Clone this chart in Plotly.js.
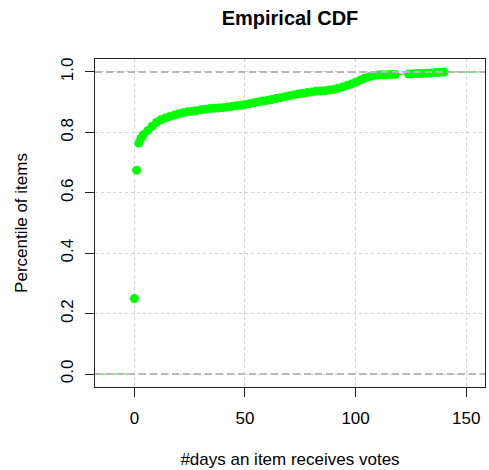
<!DOCTYPE html>
<html><head><meta charset="utf-8">
<script src="https://cdn.plot.ly/plotly-3.0.1.min.js"></script>
<style>html,body{margin:0;padding:0;background:#fff}</style>
</head><body><div id="chart" style="width:489px;height:470px"></div>
<script>
// Knots of the empirical CDF (days) and the CDF value at each knot
const days = [0,1,2,3,4,6,8,10,12,14,16,18,20,22,24,26,28,30,32,34,36,38,40,42,44,46,48,50,
  52,54,56,58,60,62,64,66,68,70,72,74,76,78,80,82,84,86,88,90,92,94,96,98,100,102,104,106,108,
  110,112,114,116,118,124,126,128,130,132,134,136,138,140];
const cdf = [0.250,0.675,0.765,0.780,0.792,0.806,0.820,0.833,0.842,0.848,0.853,0.857,0.862,0.865,
  0.868,0.870,0.872,0.875,0.877,0.879,0.880,0.881,0.882,0.884,0.886,0.888,0.890,0.892,
  0.895,0.898,0.901,0.904,0.906,0.909,0.912,0.915,0.918,0.921,0.924,0.927,0.930,0.932,0.934,
  0.936,0.937,0.938,0.940,0.942,0.946,0.950,0.955,0.960,0.966,0.973,0.979,0.984,0.988,
  0.990,0.991,0.991,0.992,0.992,0.993,0.994,0.995,0.995,0.996,0.997,0.998,0.999,1.000];
const xTicks = [0,50,100,150];
const yTicks = [0,0.2,0.4,0.6,0.8,1.0];
const refLevels = [0, 1];
const xRange = [-17.8,158.5];
const yRange = [-0.043,1.043];

// horizontal step segments (no verticals), as in R's plot.ecdf
const segX = [xRange[0], days[0], null];
const segY = [0, 0, null];
for (let i = 0; i < days.length; i++) {
  const xe = i < days.length - 1 ? days[i+1] : xRange[1];
  segX.push(days[i], xe, null);
  segY.push(cdf[i], cdf[i], null);
}
// dashed reference lines at 0 and 1 across the whole x range
const refX = [], refY = [];
refLevels.forEach(v => { refX.push(xRange[0], xRange[1], null); refY.push(v, v, null); });

const green = '#00ff00';
const font = 'Liberation Sans, Arial, Helvetica, sans-serif';
const traces = [
  {x: segX, y: segY, mode: 'lines', line: {color: green, width: 0.8}, connectgaps: false,
   hoverinfo: 'skip', showlegend: false},
  {x: days, y: cdf, mode: 'markers', marker: {color: green, size: 9}, showlegend: false},
  {x: refX, y: refY, mode: 'lines', line: {color: '#b8b8b8', width: 2, dash: '7px,4px'},
   connectgaps: false, hoverinfo: 'skip', showlegend: false}
];

const axisCommon = {
  showline: true, mirror: true, linecolor: '#222', linewidth: 1,
  ticks: 'outside', ticklen: 9, tickcolor: '#222', tickwidth: 1,
  showgrid: true, gridcolor: '#d3d3d3', griddash: 'dot', gridwidth: 1,
  zeroline: false, automargin: false,
  tickfont: {family: font, size: 17, color: '#000'}
};

const layout = {
  width: 489, height: 470,
  margin: {l: 95, r: 4, t: 59, b: 83},
  paper_bgcolor: '#fff', plot_bgcolor: '#fff',
  font: {family: font, color: '#000'},
  title: {text: '<b>Empirical CDF</b>', font: {family: font, size: 20, color: '#000'},
          xref: 'paper', x: 0.5, xanchor: 'center', yref: 'container', y: 0.962, yanchor: 'middle'},
  xaxis: Object.assign({}, axisCommon, {
    range: xRange, tickmode: 'array', tickvals: xTicks, ticktext: xTicks.map(String),
    ticklabelstandoff: 7,
    title: {text: '#days an item receives votes', font: {family: font, size: 17, color: '#000'}, standoff: 25}
  }),
  yaxis: Object.assign({}, axisCommon, {
    range: yRange, tickmode: 'array', tickvals: yTicks, ticktext: yTicks.map(v => v.toFixed(1)),
    tickangle: -90, ticklabelstandoff: 5,
    title: {text: 'Percentile of items', font: {family: font, size: 17, color: '#000'}, standoff: 26}
  })
};

Plotly.newPlot('chart', traces, layout, {displayModeBar: false, staticPlot: true});
</script></body></html>
